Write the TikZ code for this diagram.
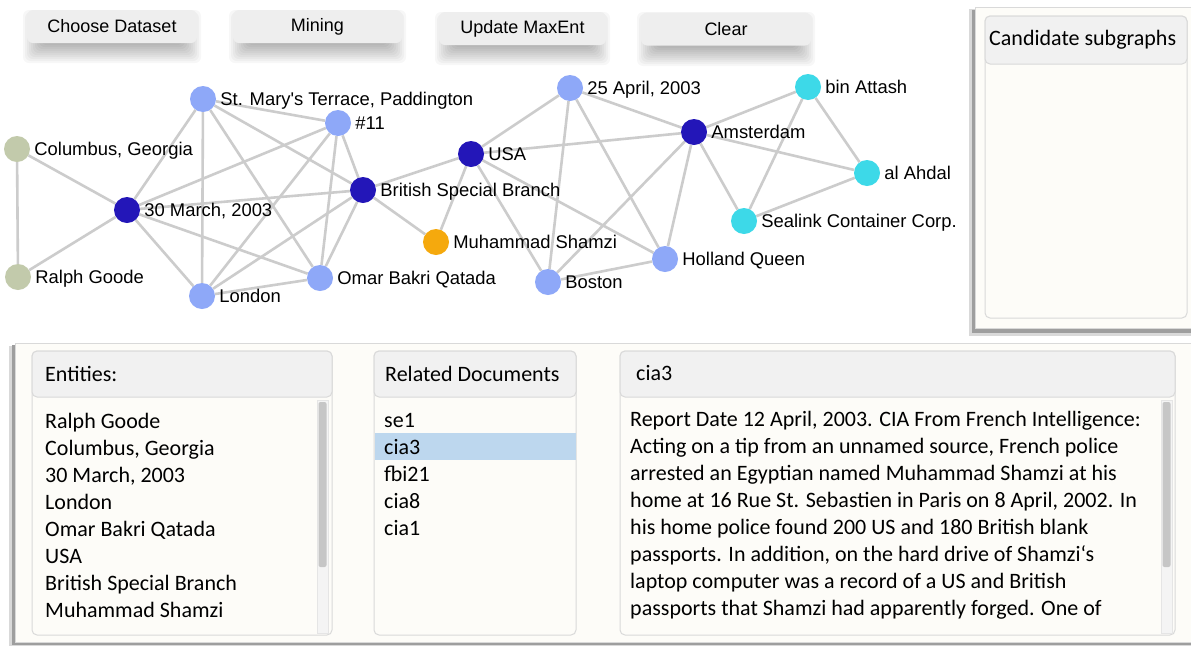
\documentclass[tikz,border=0pt]{standalone}
\usepackage{fontspec}
\newfontfamily\gfont{Liberation Sans}
\newfontfamily\calfont{Carlito}
\pgfdeclarelayer{background}
\pgfsetlayers{background,main}
\definecolor{edgec}{HTML}{CCCCCC}
\definecolor{lblue}{HTML}{8EA8F8}
\definecolor{dblue}{HTML}{2316B8}
\definecolor{sage}{HTML}{C2CAAB}
\definecolor{orng}{HTML}{F5A90D}
\definecolor{cyanc}{HTML}{3DD9E8}
\definecolor{panelbg}{HTML}{FDFCF8}
\definecolor{hdrbg}{HTML}{F1F1F1}
\definecolor{boxline}{HTML}{D9D9D9}
\definecolor{btnbg}{HTML}{EEEEEE}
\definecolor{selbg}{HTML}{BDD7EE}
\definecolor{thumbc}{HTML}{C6C6C6}
\definecolor{trackc}{HTML}{F4F4F4}
\newcommand\myBtnShadow[4]{%
  \foreach \e in {-10,-8,...,10}{\fill[black,opacity=0.032,rounded corners=6pt] (#1+6-\e,#2+10-\e) rectangle (#3-6+\e,#4+10+\e);}}
\begin{document}
\begin{tikzpicture}[x=1pt,y=-1pt,
  vtx/.style={circle,minimum size=26pt,inner sep=0pt},
  glabel/.style={font=\gfont\fontsize{18.4}{20}\selectfont,text height=13pt,text depth=0pt,inner sep=0pt},
  label distance=4pt,
  edge/.style={draw=edgec,line width=2.6pt},
  btn/.style={fill=btnbg,rounded corners=6pt,minimum height=33pt,inner sep=0pt,font=\gfont\fontsize{18}{20}\selectfont},
  box/.style={draw=boxline,fill=panelbg,line width=1pt,rounded corners=5pt},
  hdr/.style={draw=boxline,fill=hdrbg,line width=1pt,rounded corners=5pt},
  ptext/.style={font=\calfont\fontsize{22}{27}\selectfont,anchor=base west,inner sep=0pt},
]
\useasboundingbox (0,0) rectangle (1191,646);
\begin{pgfonlayer}{background}
\fill[white] (0,0) rectangle (1191,646);
\end{pgfonlayer}

% ---------- buttons ----------
\myBtnShadow{27}{10}{197}{43}
\myBtnShadow{233}{10}{402}{43}
\myBtnShadow{439}{12}{606}{45}
\myBtnShadow{641}{12}{811}{46}
\node[btn,minimum width=170pt] (b1) at (112,26.5) {Choose Dataset};
\node[btn,minimum width=169pt] (b2) at (317.5,26.5) {Mining};
\node[btn,minimum width=167pt] (b3) at (522.5,28.5) {Update MaxEnt};
\node[btn,minimum width=170pt] (b4) at (726,29) {Clear};

% ---------- right panel ----------
\fill[black!15] (969,9) rectangle (1191,336);
\fill[black!38] (972,10) rectangle (1191,333);
\fill[panelbg,draw=black!15] (975,7) rectangle (1195,328);
\draw[box] (985,16) rectangle (1187,318);
\draw[hdr] (985,16) rectangle (1187,64);
\node[ptext] (cand) at (989,45) {Candidate subgraphs};

% ---------- bottom panel ----------
\fill[black!15] (9,346) rectangle (1191,646);
\fill[black!38] (11.5,345) rectangle (1191,645);
\fill[panelbg,draw=black!15] (15,343) rectangle (1195,642);

% entities box
\draw[box] (32,351) rectangle (332,635);
\draw[hdr] (32,351) rectangle (332,397);
\node[ptext] (enth) at (45,381) {Entities:};
\fill[trackc,draw=black!10] (317,400) rectangle (328,633);
\fill[thumbc,rounded corners=2pt] (318.5,402) rectangle (326.5,567);
\foreach \t [count=\i] in {Ralph Goode,{Columbus, Georgia},{30 March, 2003},London,Omar Bakri Qatada,USA,British Special Branch,Muhammad Shamzi}
  \node[ptext] (ent\i) at (45,{428+27*(\i-1)}) {\t};

% related documents box
\draw[box] (374,351) rectangle (576,635);
\draw[hdr] (374,351) rectangle (576,397);
\node[ptext] (relh) at (385,381) {Related Documents};
\fill[selbg] (374.5,433) rectangle (575.5,460);
\foreach \t [count=\i] in {se1,cia3,fbi21,cia8,cia1}
  \node[ptext] (doc\i) at (384,{427+27*(\i-1)}) {\t};

% cia3 box
\draw[box] (620,351) rectangle (1175,635);
\draw[hdr] (620,351) rectangle (1175,397);
\node[ptext] (ciah) at (636,380) {cia3};
\fill[trackc,draw=black!10] (1161,400) rectangle (1172,633);
\fill[thumbc,rounded corners=2pt] (1162.5,402) rectangle (1170.5,567);
\foreach \t [count=\i] in {%
  {Report Date 12 April, 2003. CIA From French Intelligence:},
  {Acting on a tip from an unnamed source, French police},
  {arrested an Egyptian named Muhammad Shamzi at his},
  {home at 16 Rue St. Sebastien in Paris on 8 April, 2002. In},
  {his home police found 200 US and 180 British blank},
  {passports. In addition, on the hard drive of Shamzi‘s},
  {laptop computer was a record of a US and British},
  {passports that Shamzi had apparently forged. One of}}
  \node[ptext] (txt\i) at (630,{426+27.14*(\i-1)}) {\t};

% ---------- graph ----------
\node[vtx,fill=lblue,label={[glabel]0:{St. Mary's Terrace, Paddington}}] (sm) at (203,99) {};
\node[vtx,fill=lblue,label={[glabel]0:{\#11}}] (n11) at (338,123) {};
\node[vtx,fill=sage,label={[glabel]0:{Columbus, Georgia}}] (cg) at (17,149) {};
\node[vtx,fill=dblue,label={[glabel]0:{30 March, 2003}}] (mar) at (127,210) {};
\node[vtx,fill=dblue,label={[glabel]0:{British Special Branch}}] (bsb) at (363,190) {};
\node[vtx,fill=sage,label={[glabel]0:{Ralph Goode}}] (rg) at (18,277) {};
\node[vtx,fill=lblue,label={[glabel]0:{London}}] (lon) at (202,296) {};
\node[vtx,fill=lblue,label={[glabel]0:{Omar Bakri Qatada}}] (obq) at (320,278) {};
\node[vtx,fill=dblue,label={[glabel]0:{USA}}] (usa) at (471,154) {};
\node[vtx,fill=orng,label={[glabel]0:{Muhammad Shamzi}}] (ms) at (436,242) {};
\node[vtx,fill=lblue,label={[glabel]0:{25 April, 2003}}] (apr) at (570,88) {};
\node[vtx,fill=dblue,label={[glabel]0:{Amsterdam}}] (ams) at (694,132) {};
\node[vtx,fill=lblue,label={[glabel]0:{Boston}}] (bos) at (548,282) {};
\node[vtx,fill=lblue,label={[glabel]0:{Holland Queen}}] (hq) at (665,259) {};
\node[vtx,fill=cyanc,label={[glabel]0:{bin Attash}}] (ba) at (808,87) {};
\node[vtx,fill=cyanc,label={[glabel]0:{al Ahdal}}] (aa) at (867,173) {};
\node[vtx,fill=cyanc,label={[glabel]0:{Sealink Container Corp.}}] (sl) at (744,221) {};

\begin{pgfonlayer}{background}
\foreach \a/\b in {cg/rg,cg/mar,rg/mar,mar/sm,mar/n11,mar/bsb,mar/lon,mar/obq,
  sm/n11,sm/lon,sm/obq,sm/bsb,n11/lon,n11/obq,n11/bsb,bsb/lon,bsb/obq,lon/obq,
  bsb/usa,bsb/ms,usa/ms,usa/apr,usa/ams,usa/bos,usa/hq,apr/bos,apr/hq,apr/ams,
  ams/bos,ams/hq,ams/sl,ams/ba,ams/aa,bos/hq,ba/sl,ba/aa,aa/sl}
  \draw[edge] (\a) -- (\b);
\end{pgfonlayer}
\end{tikzpicture}
\end{document}
